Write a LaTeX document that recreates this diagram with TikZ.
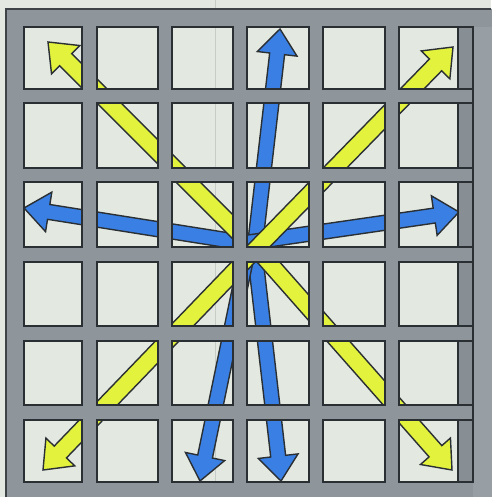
\documentclass[tikz,border=0pt]{standalone}
\usetikzlibrary{calc}
\definecolor{bgc}{HTML}{E3E8E1}
\definecolor{cellc}{HTML}{E2E7DF}
\definecolor{barc}{HTML}{8E959B}
\definecolor{stripc}{HTML}{878E94}
\definecolor{framec}{HTML}{989FA4}
\definecolor{linec}{HTML}{2A2F33}
\definecolor{yel}{HTML}{E3F23C}
\definecolor{blu}{HTML}{3A80E4}
\tikzset{
  cellbox/.style={draw=linec, line width=1.8pt},
  yarrow/.style={fill=yel, draw=linec, line width=1.4pt, line join=miter},
  barrow/.style={fill=blu, draw=linec, line width=1.4pt, line join=miter},
}
% #1 style, #2 start coordinate, #3 tip coordinate, #4 half shaft, #5 half head
\newcommand\blockarr[5]{%
  \coordinate (#2H) at ($(#3)!25pt!(#2)$);
  \draw[#1] ($(#2)!#4!90:(#3)$) -- ($(#2H)!#4!90:(#3)$) -- ($(#2H)!#5!90:(#3)$)
    -- (#3) -- ($(#2H)!#5!-90:(#3)$) -- ($(#2H)!#4!-90:(#3)$) -- ($(#2)!#4!-90:(#3)$) -- cycle;
}
\begin{document}
\begin{tikzpicture}[x=1pt,y=-1pt]
\useasboundingbox (0,0) rectangle (491,497);
\fill[bgc] (0,0) rectangle (491,497);
\draw[bgc!88!black, line width=0.8pt] (215,0) -- (215,497);
% arrow coordinates
\coordinate (sN) at (254,254);  \coordinate (tN) at (280,29);
\coordinate (sSb) at (255,254); \coordinate (tSb) at (281,481);
\coordinate (sSa) at (247,254); \coordinate (tSa) at (200,481);
\coordinate (sW) at (245,243);  \coordinate (tW) at (24,208);
\coordinate (sE) at (245,243);  \coordinate (tE) at (459,212);
\coordinate (sNW) at (240,234); \coordinate (tNW) at (48,42);
\coordinate (sSE) at (256,248); \coordinate (tSE) at (452,470);
\coordinate (sNE) at (251,254); \coordinate (tNE) at (453,47);
\coordinate (sSW) at (251,254); \coordinate (tSW) at (43,470);
% blue arrows
\blockarr{barrow}{sN}{tN}{7.5pt}{20pt}
\blockarr{barrow}{sSb}{tSb}{7.5pt}{20pt}
\blockarr{barrow}{sSa}{tSa}{7.5pt}{20pt}
\blockarr{barrow}{sW}{tW}{7.5pt}{20pt}
\blockarr{barrow}{sE}{tE}{7.5pt}{20pt}
% yellow arrows
\blockarr{yarrow}{sSE}{tSE}{8.5pt}{20pt}
\blockarr{yarrow}{sNW}{tNW}{8.5pt}{20pt}
\blockarr{yarrow}{sNE}{tNE}{8.5pt}{20pt}
\blockarr{yarrow}{sSW}{tSW}{8.5pt}{20pt}
% frame with windows
\fill[barc, even odd rule] (6,9) rectangle (495,501)
  \foreach \xa/\xb in {24/82,97/158,172/233,247/309,323/385,399/458}{
    \foreach \ya/\yb in {27/89,103/168,182/247,262/326,341/405,420/482}{
      (\xa,\ya) rectangle (\xb,\yb)
    }
  };
\fill[framec] (473,9) rectangle (495,501);
\fill[barc] (473,9) rectangle (495,27);
% narrow right column
\foreach \ya/\yb in {27/89,103/168,182/247,262/326,341/405,420/482}{
  \fill[stripc] (458,\ya) rectangle (473,\yb);
  \draw[cellbox] (458,\ya) rectangle (473,\yb);
}
% cell outlines
\foreach \xa/\xb in {24/82,97/158,172/233,247/309,323/385,399/458}{
  \foreach \ya/\yb in {27/89,103/168,182/247,262/326,341/405,420/482}{
    \draw[cellbox] (\xa,\ya) rectangle (\xb,\yb);
  }
}
\draw[linec, line width=1.8pt] (473,27) -- (473,482);
\draw[linec!80!barc, line width=1.6pt] (6,497) -- (6,9) -- (491,9);
\end{tikzpicture}
\end{document}
